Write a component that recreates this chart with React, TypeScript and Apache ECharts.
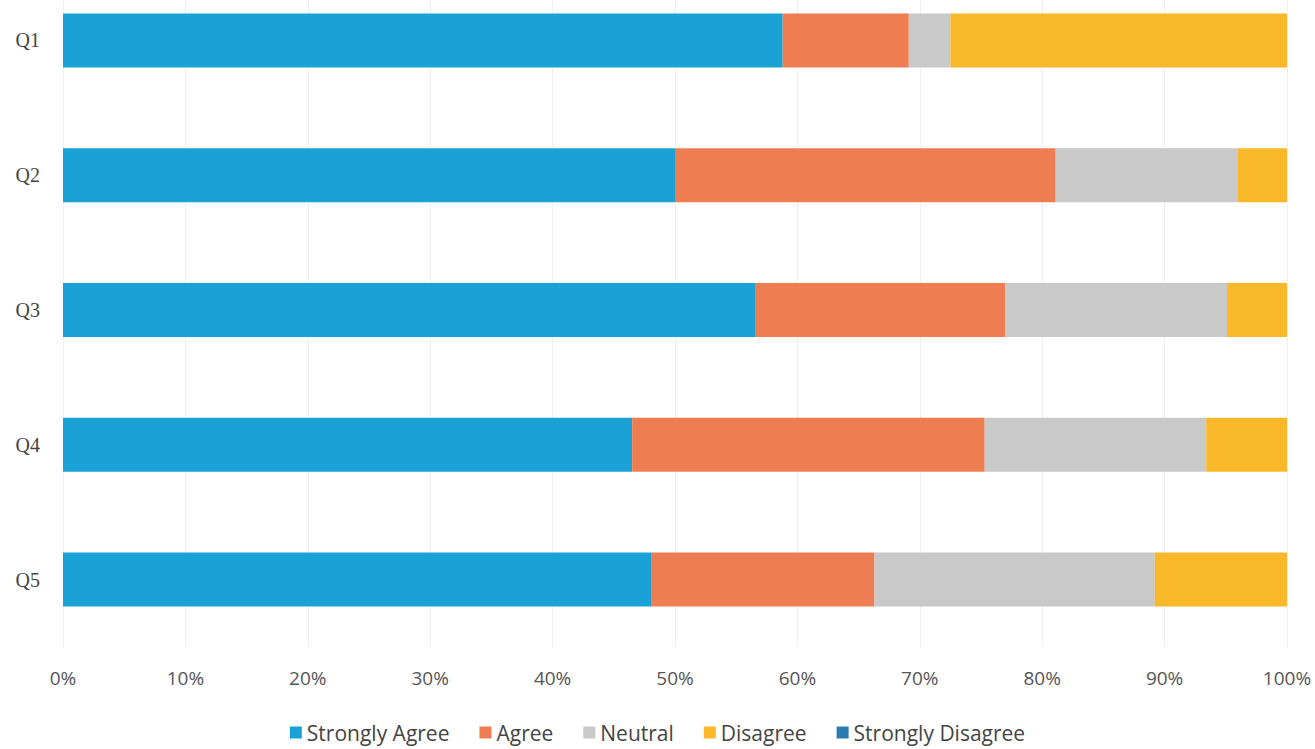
import React, { useEffect, useRef } from "react";
import * as echarts from "echarts";

const categories = ["Q1", "Q2", "Q3", "Q4", "Q5"];
const seriesNames = ["Strongly Agree", "Agree", "Neutral", "Disagree", "Strongly Disagree"];
const stronglyAgree = [58.8, 50.0, 56.6, 46.5, 48.1];
const agree = [10.3, 31.1, 20.4, 28.8, 18.2];
const neutral = [3.4, 14.9, 18.1, 18.1, 22.9];
const disagree = [27.5, 4.0, 4.9, 6.6, 10.8];
const stronglyDisagree = [0, 0, 0, 0, 0];
const xTicks = ["0%", "10%", "20%", "30%", "40%", "50%", "60%", "70%", "80%", "90%", "100%"];
const colors = ["#1aa2d6", "#ef7d52", "#c9c9c9", "#f8b82a", "#2b7bb0"];

export default function App() {
  const ref = useRef<HTMLDivElement>(null);
  useEffect(() => {
    if (!ref.current) return;
    const chart = echarts.init(ref.current, undefined, { renderer: "svg" });
    const values = [stronglyAgree, agree, neutral, disagree, stronglyDisagree];
    chart.setOption({
      animation: false,
      color: colors,
      grid: { left: 63, right: 28, top: 0, bottom: 102, containLabel: false },
      legend: {
        data: seriesNames,
        bottom: 1,
        left: "center",
        itemWidth: 12,
        itemHeight: 12,
        itemGap: 30,
        icon: "rect",
        textStyle: { fontFamily: "Open Sans", fontSize: 21, color: "#444" },
      },
      xAxis: {
        type: "value",
        min: 0,
        max: 100,
        interval: 10,
        axisLine: { show: false },
        axisTick: { show: false },
        splitLine: { show: true, lineStyle: { color: "#f0f0f0", width: 1 } },
        axisLabel: {
          margin: 21,
          fontFamily: "Open Sans",
          fontSize: 19,
          color: "#555",
          formatter: (v: number) => xTicks[Math.round(v / 10)],
        },
      },
      yAxis: {
        type: "category",
        data: categories,
        inverse: true,
        axisLine: { show: false },
        axisTick: { show: false },
        axisLabel: {
          margin: 23,
          fontFamily: "Liberation Serif",
          fontSize: 20,
          color: "#444",
        },
      },
      series: seriesNames.map((name, i) => ({
        name,
        type: "bar",
        stack: "total",
        barWidth: 54,
        data: values[i],
        itemStyle: { color: colors[i] },
      })),
    });
    return () => chart.dispose();
  }, []);
  return (
    <div
      style={{
        position: "fixed",
        left: 0,
        top: 0,
        width: 1315,
        height: 749,
        overflow: "hidden",
        background: "#fff",
      }}
    >
      <div ref={ref} style={{ position: "absolute", left: 0, top: -27, width: 1315, height: 776 }} />
    </div>
  );
}
